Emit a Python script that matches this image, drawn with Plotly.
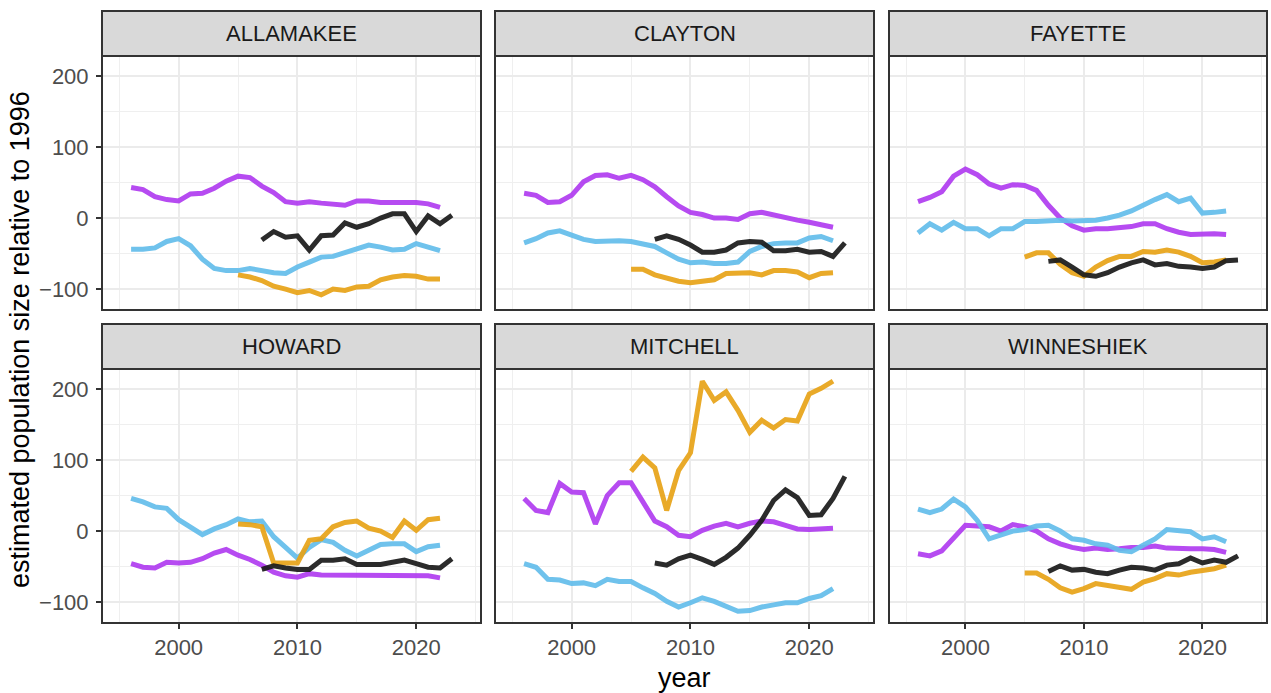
import plotly.graph_objects as go

W, H = 1271, 693

counties = ["ALLAMAKEE", "CLAYTON", "FAYETTE", "HOWARD", "MITCHELL", "WINNESHIEK"]

years_purple = list(range(1996, 2023))
years_blue = list(range(1996, 2023))
years_orange = list(range(2005, 2023))
years_black = list(range(2007, 2024))

purple = {
    "ALLAMAKEE": [43, 40, 30, 26, 24, 34, 35, 42, 52, 59, 57, 45, 36, 23, 21, 23, 21, 20, 18, 24, 24, 22, 22, 23, 22, 20, 15],
    "CLAYTON": [35, 32, 22, 23, 32, 51, 60, 61, 56, 60, 54, 44, 30, 17, 8, 5, 0, 0, -2, 6, 8, 4, 0, -3, -6, -9, -13],
    "FAYETTE": [23, 29, 37, 59, 69, 61, 48, 42, 47, 46, 39, 18, 0, -11, -17, -15, -15, -13, -12, -8, -8, -15, -20, -23, -22, -22, -23],
    "HOWARD": [-46, -51, -52, -44, -45, -44, -39, -31, -26, -34, -40, -48, -58, -63, -65, -60, -62, -62, -63, -62, -62, -62, -62, -62, -62, -63, -66],
    "MITCHELL": [46, 29, 26, 67, 55, 54, 10, 50, 68, 68, 41, 14, 6, -6, -8, 1, 7, 11, 6, 11, 14, 13, 8, 3, 2, 3, 4],
    "WINNESHIEK": [-32, -35, -28, -11, 8, 7, 6, 0, 9, 6, 0, -11, -18, -23, -26, -24, -26, -25, -23, -23, -21, -24, -25, -25, -25, -26, -30],
}
blue = {
    "ALLAMAKEE": [-44, -44, -42, -33, -29, -39, -58, -71, -74, -74, -71, -74, -77, -78, -69, -62, -55, -54, -49, -44, -38, -41, -45, -44, -36, -41, -46],
    "CLAYTON": [-35, -29, -21, -18, -24, -30, -33, -32, -32, -33, -36, -40, -49, -58, -63, -62, -64, -64, -62, -47, -40, -36, -35, -35, -28, -26, -32],
    "FAYETTE": [-21, -8, -17, -6, -15, -15, -25, -15, -15, -5, -5, -4, -3, -4, -4, -3, 0, 4, 10, 19, 26, 33, 23, 28, 7, 8, 10],
    "HOWARD": [46, 41, 34, 32, 16, 6, -5, 3, 9, 17, 13, 14, -8, -23, -38, -23, -12, -16, -27, -35, -26, -19, -18, -18, -29, -22, -20],
    "MITCHELL": [-46, -51, -68, -69, -74, -73, -77, -68, -71, -71, -80, -88, -99, -107, -101, -94, -99, -106, -113, -112, -107, -104, -101, -101, -95, -91, -81],
    "WINNESHIEK": [31, 26, 31, 45, 34, 15, -11, -6, 0, 2, 7, 8, 0, -11, -13, -18, -20, -27, -29, -20, -11, 2, 0, -1, -11, -8, -15],
}
orange = {
    "ALLAMAKEE": [-80, -83, -88, -96, -100, -105, -102, -108, -100, -102, -97, -96, -87, -83, -81, -82, -86, -86],
    "CLAYTON": [-72, -72, -80, -84, -89, -91, -89, -87, -78, -78, -77, -80, -74, -74, -76, -84, -78, -77],
    "FAYETTE": [-55, -49, -49, -65, -77, -82, -69, -60, -54, -54, -47, -48, -45, -48, -54, -63, -62, -59],
    "HOWARD": [10, 9, 6, -45, -45, -45, -13, -11, 6, 12, 14, 4, 0, -9, 14, 1, 16, 18],
    "MITCHELL": [84, 104, 89, 29, 85, 110, 211, 184, 196, 170, 139, 156, 145, 157, 155, 193, 201, 211],
    "WINNESHIEK": [-59, -59, -68, -80, -86, -81, -74, -77, -80, -82, -72, -67, -60, -62, -58, -55, -53, -48],
}
black = {
    "ALLAMAKEE": [-31, -19, -27, -25, -45, -25, -24, -7, -13, -8, 0, 6, 6, -19, 3, -8, 4],
    "CLAYTON": [-30, -25, -30, -38, -48, -48, -45, -35, -33, -34, -46, -46, -44, -48, -47, -54, -35],
    "FAYETTE": [-61, -59, -69, -80, -82, -77, -69, -63, -59, -66, -64, -68, -69, -71, -69, -60, -59],
    "HOWARD": [-54, -49, -52, -54, -54, -41, -41, -39, -47, -47, -47, -44, -41, -46, -51, -52, -39],
    "MITCHELL": [-45, -48, -39, -34, -40, -47, -37, -24, -6, 15, 43, 58, 47, 22, 23, 46, 77],
    "WINNESHIEK": [-57, -49, -55, -54, -58, -60, -55, -51, -52, -55, -48, -46, -38, -45, -41, -44, -35],
}

x_ticks = [2000, 2010, 2020]
y_ticks = [-100, 0, 100, 200]

series = [
    (years_purple, purple, "#B03CF0"),
    (years_blue, blue, "#63BDEB"),
    (years_orange, orange, "#E8A317"),
    (years_black, black, "#1A1A1A"),
]

col_px = [(102, 481), (495, 874), (889, 1267)]
row_px = [(56, 310), (369, 623)]
strip_px = [(11, 56), (324, 369)]

FONT = "Liberation Sans, Arial, sans-serif"
TICK = 22

fig = go.Figure()
layout = dict(
    width=W, height=H,
    margin=dict(l=0, r=0, t=0, b=0),
    paper_bgcolor="white", plot_bgcolor="white",
    showlegend=False,
    font=dict(family=FONT),
    shapes=[], annotations=[],
)

for i, c in enumerate(counties):
    r, k = divmod(i, 3)
    n = i + 1
    xa = "x" if n == 1 else f"x{n}"
    ya = "y" if n == 1 else f"y{n}"
    for yrs, d, col in series:
        fig.add_trace(go.Scatter(
            x=yrs, y=d[c], mode="lines",
            line=dict(color=col, width=5),
            opacity=0.92,
            xaxis=xa, yaxis=ya, hoverinfo="skip",
        ))
    x0, x1 = col_px[k]
    y0, y1 = row_px[r]
    bottom = (r == 1)
    left = (k == 0)
    layout[f"xaxis{n}" if n > 1 else "xaxis"] = dict(
        domain=[x0 / W, x1 / W], anchor=ya,
        range=[1993.55, 2025.45],
        tickmode="array", tickvals=x_ticks,
        showticklabels=bottom, ticks="outside" if bottom else "",
        ticklen=5, tickwidth=2, tickcolor="#333333",
        tickfont=dict(size=TICK, color="#4D4D4D", family=FONT),
        showgrid=True, gridcolor="#EBEBEB", gridwidth=2,
        minor=dict(tickmode="array", tickvals=[1995, 2005, 2015, 2025],
                   showgrid=True, gridcolor="#EFEFEF", gridwidth=1),
        zeroline=False, showline=False,
    )
    layout[f"yaxis{n}" if n > 1 else "yaxis"] = dict(
        domain=[1 - y1 / H, 1 - y0 / H], anchor=xa,
        range=[-129.5, 228.2],
        tickmode="array", tickvals=y_ticks,
        showticklabels=left, ticks="outside" if left else "",
        ticklen=5, tickwidth=2, tickcolor="#333333",
        ticklabelstandoff=3,
        tickfont=dict(size=TICK, color="#4D4D4D", family=FONT),
        showgrid=True, gridcolor="#EBEBEB", gridwidth=2,
        minor=dict(tickmode="array", tickvals=[-50, 50, 150],
                   showgrid=True, gridcolor="#EFEFEF", gridwidth=1),
        zeroline=False, showline=False,
    )
    layout["shapes"].append(dict(
        type="rect", xref="paper", yref="paper",
        x0=x0 / W, x1=x1 / W, y0=1 - y1 / H, y1=1 - y0 / H,
        line=dict(color="#333333", width=2), fillcolor="rgba(0,0,0,0)", layer="above",
    ))
    s0, s1 = strip_px[r]
    layout["shapes"].append(dict(
        type="rect", xref="paper", yref="paper",
        x0=x0 / W, x1=x1 / W, y0=1 - s1 / H, y1=1 - s0 / H,
        line=dict(color="#333333", width=2), fillcolor="#D9D9D9", layer="above",
    ))
    layout["annotations"].append(dict(
        text=c, xref="paper", yref="paper",
        x=(x0 + x1) / 2 / W, y=1 - (s0 + s1) / 2 / H,
        xanchor="center", yanchor="middle", showarrow=False,
        font=dict(size=22, color="#1A1A1A", family=FONT),
    ))

layout["annotations"].append(dict(
    text="year", xref="paper", yref="paper",
    x=(102 + 1267) / 2 / W, y=1 - 678 / H,
    xanchor="center", yanchor="middle", showarrow=False,
    font=dict(size=27, color="#000000", family=FONT),
))
layout["annotations"].append(dict(
    text="estimated population size relative to 1996", xref="paper", yref="paper",
    x=20 / W, y=1 - 340 / H, textangle=-90,
    xanchor="center", yanchor="middle", showarrow=False,
    font=dict(size=27, color="#000000", family=FONT),
))

fig.update_layout(**layout)
fig.write_html(
    "out.html",
    config={"displayModeBar": False},
    post_script="document.body.style.margin='0';document.body.style.overflow='hidden';",
)
